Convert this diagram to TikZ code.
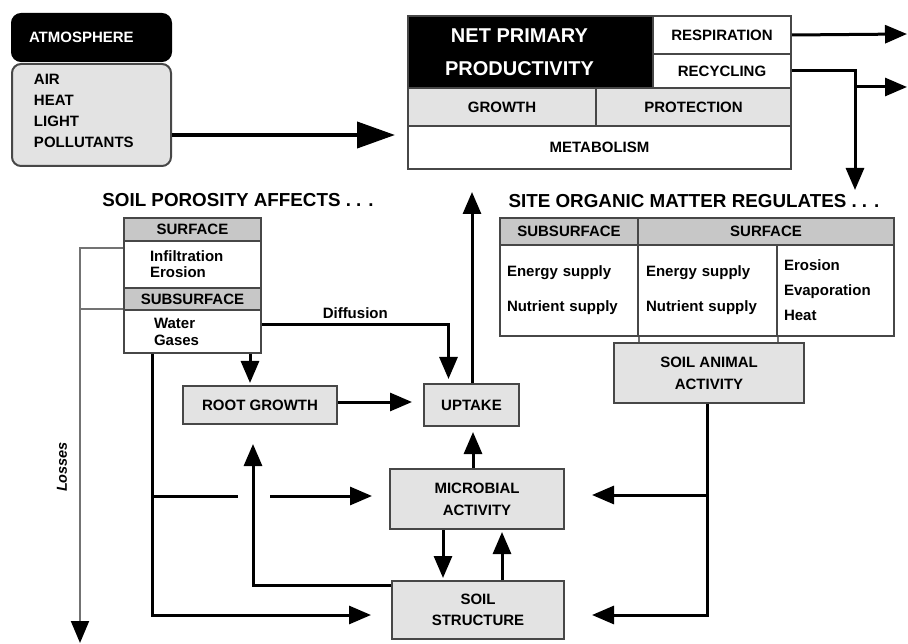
\documentclass[tikz,border=0pt]{standalone}
\usepackage{fontspec}
\setmainfont{Liberation Sans}
\usetikzlibrary{arrows.meta}
\definecolor{cellgrey}{gray}{0.89}
\definecolor{headgrey}{gray}{0.78}
\definecolor{edgegrey}{gray}{0.28}
\definecolor{lossgrey}{gray}{0.45}

\begin{document}
\begin{tikzpicture}[x=1pt,y=-1pt,
  cell/.style={draw=edgegrey, line width=2pt, anchor=north west, inner sep=0pt, align=center,
    font=\fontsize{15}{22}\selectfont\bfseries},
  listcell/.style={cell, fill=white, align=left},
  heading/.style={font=\fontsize{18.8}{20}\selectfont\bfseries},
  flow/.style={line width=3pt, -{Triangle[length=22pt,width=18pt]}},
  link/.style={line width=3pt},
  loss/.style={line width=2pt, draw=lossgrey}]
\useasboundingbox (0,0) rectangle (908,644);
% atmosphere
\node[cell, draw=black, fill=black, text=white, rounded corners=9pt, minimum width=159pt, minimum height=47pt, text width=125pt, inner xsep=17pt, align=left] (atmHead) at (11,13) {ATMOSPHERE};
\node[cell, fill=cellgrey, rounded corners=9pt, minimum width=159pt, minimum height=102pt, text width=115pt, inner xsep=22pt, align=left, text depth=71pt, font=\fontsize{15}{21}\selectfont\bfseries] (atmBody) at (11,63) {AIR\\HEAT\\LIGHT\\POLLUTANTS};
% net primary productivity
\node[cell, fill=black, text=white, minimum width=245pt, minimum height=72pt, font=\fontsize{20}{33}\selectfont\bfseries] (npp) at (407,15) {\hspace*{-22pt}NET PRIMARY\\\hspace*{-22pt}PRODUCTIVITY};
\node[cell, fill=white, minimum width=138pt, minimum height=38pt] (resp) at (652,15) {RESPIRATION};
\node[cell, fill=white, minimum width=138pt, minimum height=34pt] (recyc) at (652,53) {RECYCLING};
\node[cell, fill=cellgrey, minimum width=188pt, minimum height=38pt] (growth) at (407,87) {GROWTH};
\node[cell, fill=cellgrey, minimum width=195pt, minimum height=38pt] (protect) at (595,87) {PROTECTION};
\node[cell, fill=white, minimum width=383pt, minimum height=43pt] (metab) at (407,125) {METABOLISM};
\coordinate (respOut) at (907,34);
\coordinate (somDrop) at (855,190);
\coordinate (recycBranch) at (855,87);
\coordinate (recycOut) at (907,87);
\draw[flow, line width=4pt, -{Triangle[length=38pt,width=26pt]}, shorten >=12pt] (atmBody.east |- 0,135) -- (metab.west |- 0,135);
\draw[flow] (resp.east) -- (respOut);
\draw[flow] (recyc.east) -| (somDrop);
\draw[flow] (recycBranch) -- (recycOut);
% soil porosity
\node[heading] (porTitle) at (238,200) {SOIL POROSITY AFFECTS . . .};
\node[cell, fill=headgrey, minimum width=137pt, minimum height=23pt] (porSurfHead) at (123,217) {SURFACE};
\node[listcell, minimum width=137pt, minimum height=47pt, text width=85pt, inner xsep=26pt, font=\fontsize{15}{16}\selectfont\bfseries] (porSurf) at (123,240) {Infiltration\\Erosion};
\node[cell, fill=headgrey, minimum width=137pt, minimum height=22pt] (porSubHead) at (123,287) {SUBSURFACE};
\node[listcell, minimum width=137pt, minimum height=43pt, text width=77pt, inner xsep=30pt, font=\fontsize{15}{17}\selectfont\bfseries] (porSub) at (123,309) {Water\\Gases};
\coordinate (lossEnd) at (80,643);
\draw[loss, -{Triangle[length=22pt,width=18pt,color=black]}] (porSurf.west |- 0,248) -- (80,248) -- (lossEnd);
\draw[loss] (porSub.west |- 0,309) -- (80,309);
\node[rotate=90, font=\fontsize{14.5}{15}\selectfont\bfseries\itshape] (lossLabel) at (62,467) {Losses};
% root growth, uptake, microbes, structure
\node[cell, fill=cellgrey, minimum width=154pt, minimum height=38pt] (rootG) at (182,385) {ROOT GROWTH};
\node[cell, fill=cellgrey, minimum width=95pt, minimum height=42pt] (uptake) at (423,383) {UPTAKE};
\node[cell, fill=cellgrey, minimum width=174pt, minimum height=60pt] (micro) at (389,468) {MICROBIAL\\ACTIVITY};
\node[cell, fill=cellgrey, minimum width=172pt, minimum height=58pt, font=\fontsize{15}{21}\selectfont\bfseries] (soilS) at (391,580) {SOIL\\STRUCTURE};
\draw[flow, shorten >=4pt] (porSub.east |- 0,325) -| ([xshift=-23pt]uptake.north) node[pos=0.25, above=2pt, font=\fontsize{15}{16}\selectfont\bfseries] (diffLabel) {Diffusion};
\draw[flow, shorten >=2pt] (porSub.south -| 250,0) -- (rootG.north -| 250,0);
\draw[flow, shorten >=11pt] (rootG.east |- 0,402) -- (uptake.west |- 0,402);
\draw[flow, shorten >=22pt] (uptake.north -| 472,0) -- (metab.south -| 472,0);
\coordinate (porJoin) at (152,496);
\coordinate (gapL) at (238,496);
\coordinate (gapR) at (270,496);
\draw[flow, shorten >=20pt] (porSub.south -| 152,0) |- (soilS.west |- 0,615);
\draw[link] (porJoin) -- (gapL);
\draw[flow, shorten >=17pt] (gapR) -- (micro.west |- 0,496);
\draw[flow, shorten >=19pt] (soilS.west |- 0,585) -| (rootG.south -| 253,0);
\draw[flow, shorten >=5pt] (micro.north -| 473,0) -- (uptake.south -| 473,0);
\draw[flow, shorten >=2pt] (micro.south -| 443,0) -- (soilS.north -| 443,0);
\draw[flow, shorten >=2pt] (soilS.north -| 502,0) -- (micro.south -| 502,0);
% site organic matter
\node[heading] (somTitle) at (694,201) {SITE ORGANIC MATTER REGULATES . . .};
\node[cell, fill=headgrey, minimum width=138pt, minimum height=27pt] (somSubHead) at (499,217) {SUBSURFACE};
\node[cell, fill=headgrey, minimum width=256pt, minimum height=27pt] (somSurfHead) at (637,217) {SURFACE};
\node[listcell, minimum width=138pt, minimum height=91pt, text width=124pt, inner xsep=7pt, font=\fontsize{15}{35}\selectfont\bfseries] (somSub) at (499,244) {Energy supply\\Nutrient supply};
\node[listcell, minimum width=139pt, minimum height=91pt, text width=123pt, inner xsep=8pt, font=\fontsize{15}{35}\selectfont\bfseries] (somSurfA) at (637,244) {Energy supply\\Nutrient supply};
\node[listcell, minimum width=117pt, minimum height=91pt, text width=103pt, inner xsep=7pt, font=\fontsize{15}{25}\selectfont\bfseries] (somSurfB) at (776,244) {Erosion\\Evaporation\\Heat};
\node[cell, fill=cellgrey, minimum width=190pt, minimum height=60pt] (animal) at (613,342) {SOIL ANIMAL\\ACTIVITY};
\draw[loss] (somSub.south east) -- (animal.north -| somSub.south east);
\draw[loss] (somSurfA.south east) -- (animal.north -| somSurfA.south east);
\coordinate (animalJoin) at (707,495);
\draw[flow, shorten >=27pt] (animal.south -| 707,0) |- (soilS.east |- 0,615);
\draw[flow, shorten >=27pt] (animalJoin) -- (micro.east |- 0,495);
\end{tikzpicture}
\end{document}
